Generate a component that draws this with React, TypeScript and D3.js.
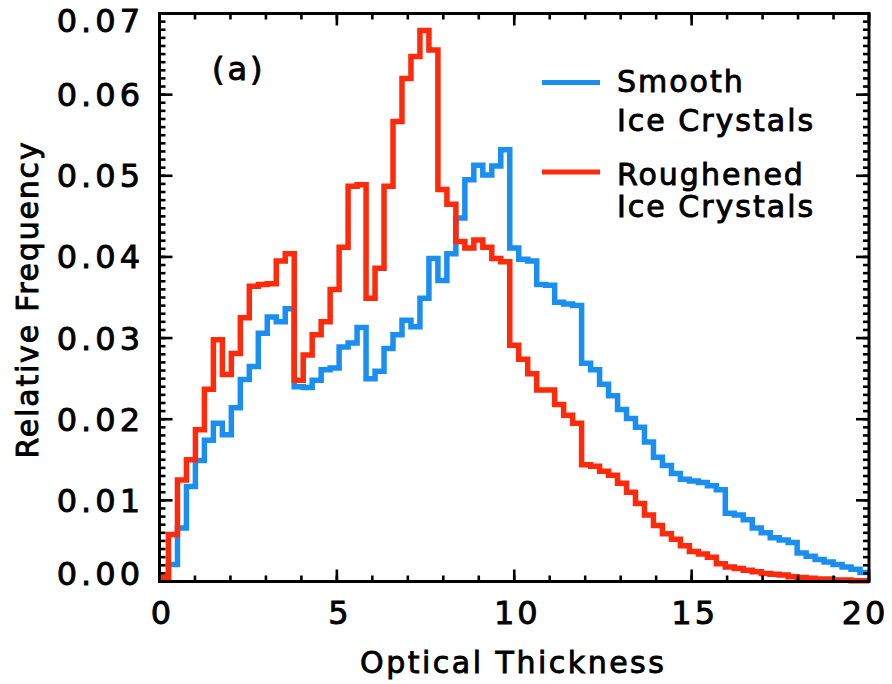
import React from "react";
import * as d3 from "d3";

// Relative frequency per optical-thickness bin (79 equal bins spanning 0–20)
const smoothIce: number[] = [
  0.0002, 0.0021, 0.0066, 0.0117, 0.0149, 0.0174, 0.0195, 0.0181, 0.0214, 0.0249,
  0.0265, 0.0306, 0.0326, 0.0320, 0.0336, 0.0240, 0.0239, 0.0248, 0.0261, 0.0263,
  0.0289, 0.0294, 0.0313, 0.0250, 0.0259, 0.0287, 0.0304, 0.0322, 0.0314, 0.0349,
  0.0398, 0.0371, 0.0404, 0.0448, 0.0495, 0.0513, 0.0501, 0.0512, 0.0532, 0.0411,
  0.0397, 0.0395, 0.0366, 0.0365, 0.0344, 0.0342, 0.0340, 0.0269, 0.0261, 0.0243,
  0.0229, 0.0212, 0.0201, 0.0190, 0.0172, 0.0153, 0.0143, 0.0133, 0.0126, 0.0124,
  0.0122, 0.0118, 0.0113, 0.0084, 0.0082, 0.0076, 0.0066, 0.0060, 0.0054, 0.0051,
  0.0048, 0.0035, 0.0031, 0.0027, 0.0024, 0.0021, 0.0018, 0.0015, 0.0011,
];

const roughenedIce: number[] = [
  0.0005, 0.0058, 0.0125, 0.0150, 0.0187, 0.0237, 0.0298, 0.0255, 0.0281, 0.0325,
  0.0364, 0.0366, 0.0367, 0.0395, 0.0404, 0.0248, 0.0279, 0.0304, 0.0320, 0.0360,
  0.0412, 0.0487, 0.0489, 0.0349, 0.0386, 0.0487, 0.0567, 0.0620, 0.0647, 0.0679,
  0.0655, 0.0483, 0.0465, 0.0419, 0.0411, 0.0421, 0.0412, 0.0398, 0.0394, 0.0291,
  0.0274, 0.0256, 0.0236, 0.0236, 0.0218, 0.0205, 0.0195, 0.0144, 0.0142, 0.0136,
  0.0131, 0.0121, 0.0110, 0.0096, 0.0082, 0.0069, 0.0059, 0.0052, 0.0044, 0.0037,
  0.0034, 0.0030, 0.0022, 0.0018, 0.0016, 0.0014, 0.0012, 0.0010, 0.0009, 0.0008,
  0.0006, 0.0005, 0.0004, 0.0003, 0.0003, 0.0002, 0.0002, 0.0001, 0.0001,
];

const xTicks: number[] = [0, 5, 10, 15, 20];
const yTicks: number[] = [0, 0.01, 0.02, 0.03, 0.04, 0.05, 0.06, 0.07];

const seriesNames = ["Smooth", "Roughened"];
const BLUE = "#1a8ff0";
const RED = "#fe2a0c";
const FONT = "'DejaVu Sans', sans-serif";

const W = 892;
const H = 684;
const X_MAX = 20;
const Y_MAX = 0.07;

const x = d3.scaleLinear().domain([0, X_MAX]).range([159.5, 869]);
const y = d3.scaleLinear().domain([0, Y_MAX]).range([581.5, 13.5]);

function stepPath(values: number[]): string {
  const w = X_MAX / values.length;
  const pts: [number, number][] = values.map((v, i) => [i * w, v]);
  pts.push([X_MAX, values[values.length - 1]]);
  const line = d3
    .line<[number, number]>()
    .x((d) => x(d[0]))
    .y((d) => y(d[1]))
    .curve(d3.curveStepAfter);
  return line(pts) || "";
}

export default function App() {
  const [x0, x1] = x.range();
  const [yb, yt] = y.range();

  const xMinor = d3.range(0, X_MAX + 0.001, 1);
  const yMinor = d3.range(0, Y_MAX + 0.00001, 0.001);

  const tickStyle = { stroke: "#000", strokeWidth: 2.6 };
  const textStyle: React.CSSProperties = {
    fontFamily: FONT,
    fontWeight: 400,
    fill: "#000",
    stroke: "#000",
    strokeWidth: 0.9,
  };

  return (
    <svg
      width={W}
      height={H}
      viewBox={`0 0 ${W} ${H}`}
      style={{ position: "absolute", left: 0, top: 0, background: "#fff" }}
    >
      {/* histogram steps */}
      <path d={stepPath(smoothIce)} fill="none" stroke={BLUE} strokeWidth={5.5} strokeLinejoin="miter" />
      <path d={stepPath(roughenedIce)} fill="none" stroke={RED} strokeWidth={5.5} strokeLinejoin="miter" />

      {/* minor ticks */}
      {xMinor.map((v) => (
        <g key={`xm${v}`}>
          <line x1={x(v)} x2={x(v)} y1={yb} y2={yb - 6} {...tickStyle} />
          <line x1={x(v)} x2={x(v)} y1={yt} y2={yt + 6} {...tickStyle} />
        </g>
      ))}
      {yMinor.map((v, i) => (
        <g key={`ym${i}`}>
          <line x1={x0} x2={x0 + 6} y1={y(v)} y2={y(v)} {...tickStyle} />
          <line x1={x1} x2={x1 - 6} y1={y(v)} y2={y(v)} {...tickStyle} />
        </g>
      ))}
      {/* major ticks */}
      {xTicks.map((v) => (
        <g key={`xM${v}`}>
          <line x1={x(v)} x2={x(v)} y1={yb} y2={yb - 12} {...tickStyle} />
          <line x1={x(v)} x2={x(v)} y1={yt} y2={yt + 12} {...tickStyle} />
        </g>
      ))}
      {yTicks.map((v) => (
        <g key={`yM${v}`}>
          <line x1={x0} x2={x0 + 13} y1={y(v)} y2={y(v)} {...tickStyle} />
          <line x1={x1} x2={x1 - 13} y1={y(v)} y2={y(v)} {...tickStyle} />
        </g>
      ))}

      {/* frame */}
      <rect x={x0} y={yt} width={x1 - x0} height={yb - yt} fill="none" stroke="#000" strokeWidth={3} />

      {/* tick labels */}
      {xTicks.map((v) => (
        <text
          key={`xl${v}`}
          x={Math.min(x(v) + 3, 865)}
          y={624}
          textAnchor="middle"
          fontSize={32}
          letterSpacing={3}
          style={textStyle}
        >
          {String(v)}
        </text>
      ))}
      {yTicks.map((v) => (
        <text
          key={`yl${v}`}
          x={144}
          y={Math.min(Math.max(y(v), 20), 573) + 11.5}
          textAnchor="end"
          fontSize={32}
          letterSpacing={4}
          style={textStyle}
        >
          {v.toFixed(2)}
        </text>
      ))}

      {/* axis titles */}
      <text
        x={(x0 + x1) / 2 - 1}
        y={673}
        textAnchor="middle"
        fontSize={30}
        letterSpacing={2.5}
        style={textStyle}
      >
        Optical Thickness
      </text>
      <text
        transform={`translate(38, ${(yt + yb) / 2 + 2}) rotate(-90)`}
        textAnchor="middle"
        fontSize={30}
        letterSpacing={1.8}
        style={textStyle}
      >
        Relative Frequency
      </text>

      {/* panel tag */}
      <text x={212} y={80} fontSize={32} letterSpacing={3} style={textStyle}>
        (a)
      </text>

      {/* legend */}
      <line x1={542} x2={600} y1={82.5} y2={82.5} stroke={BLUE} strokeWidth={5} />
      <text x={617} y={92} fontSize={30} letterSpacing={2} style={textStyle}>
        {seriesNames[0]}
      </text>
      <text x={617} y={131} fontSize={30} letterSpacing={2} style={textStyle}>
        Ice Crystals
      </text>
      <line x1={542} x2={600} y1={172} y2={172} stroke={RED} strokeWidth={5} />
      <text x={617} y={185} fontSize={30} letterSpacing={2} style={textStyle}>
        {seriesNames[1]}
      </text>
      <text x={617} y={217} fontSize={30} letterSpacing={2} style={textStyle}>
        Ice Crystals
      </text>
    </svg>
  );
}
